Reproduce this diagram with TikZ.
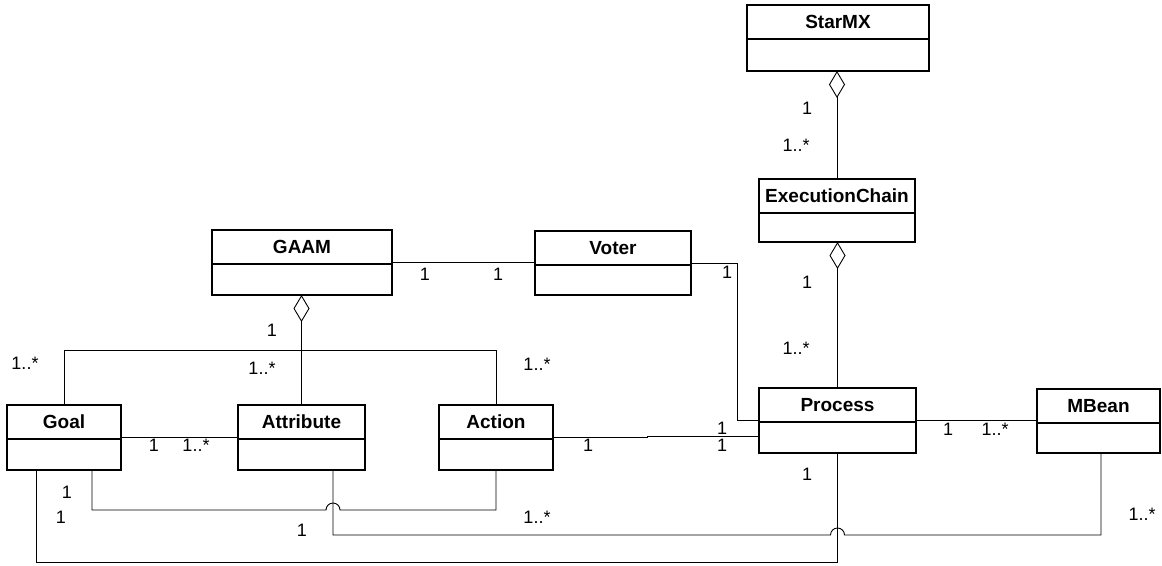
\documentclass[tikz,border=0pt]{standalone}
\usepackage{fontspec}
\setmainfont{Liberation Sans}
\usetikzlibrary{arrows.meta,calc}
\tikzset{
 cls/.style={draw, line width=1.5pt, inner sep=0pt, outer sep=0pt},
 hdr/.style={line width=1.5pt},
 ttl/.style={font=\bfseries\fontsize{19}{19}\selectfont, inner sep=0pt, text height=13.3pt, text depth=0pt},
 lbl/.style={font=\fontsize{18}{18}\selectfont, inner sep=0pt, text height=12.6pt, text depth=0pt},
 conn/.style={line width=0.9pt},
 agg/.style={conn, -{Diamond[open, length=27pt, width=16pt]}},
}
\newcommand\umlbox[6]{%
 \node[cls, minimum width=#4pt, minimum height=#5pt] (#1) at (#2,#3) {};
 \draw[hdr] ([yshift=-34pt]#1.north west) -- ([yshift=-34pt]#1.north east);
 \node[ttl] (#1-t) at ([yshift=-17pt]#1.north) {#6};
}
\begin{document}
\begin{tikzpicture}[x=1pt,y=-1pt]
\useasboundingbox (0,0) rectangle (1162,565);
% classes
\umlbox{starmx}{838}{38}{182}{66}{StarMX}
\umlbox{exec}{837}{210.5}{156}{63}{ExecutionChain}
\umlbox{gaam}{302}{262.5}{180}{65}{GAAM}
\umlbox{voter}{613}{263}{156}{64}{Voter}
\umlbox{goal}{64}{437.5}{114}{65}{Goal}
\umlbox{attr}{301.5}{437.5}{127}{65}{Attribute}
\umlbox{action}{496}{437.5}{114}{65}{Action}
\umlbox{process}{837.5}{420.5}{157}{65}{Process}
\umlbox{mbean}{1098.5}{421}{123}{64}{MBean}
% connectors
\draw[agg] (exec.north) -- (exec.north |- starmx.south);
\draw[agg] (process.north) -- (process.north |- exec.south);
\draw[agg] (attr.north) -- (attr.north |- gaam.south);
\draw[conn] (gaam.east) -- (gaam.east -| voter.west);
\draw[conn] (voter.east) -| ([xshift=-22pt]process.west) -- (process.west);
\draw[conn] (action.east) -- (647,437.5) -- (647,436.5) -- ([yshift=1pt]action.east -| process.west);
\draw[conn] (process.east) -- (process.east -| mbean.west);
\draw[conn] (goal.east) -- (attr.west);
\draw[conn] (goal.north) -- (goal.north |- 0,350) -| (action.north);
\draw[conn] ([xshift=28pt]goal.south) -- ++(0,40) -- (326,510)
  arc[start angle=180,end angle=0,radius=7pt] -- (action.south |- 0,510) -- (action.south);
\draw[conn] ([xshift=31.5pt]attr.south) -- ++(0,65) -- (830.5,535)
  arc[start angle=180,end angle=0,radius=7pt] -- (1101,535) -- ([xshift=2.5pt]mbean.south);
\draw[conn] ([xshift=-28pt]goal.south) -- ++(0,92) -- (process.south |- 0,562) -- (process.south);
% multiplicities
\node[lbl] (m1) at (807,108) {1};
\node[lbl] (m2) at (796,145) {1..*};
\node[lbl] (m3) at (807,282) {1};
\node[lbl] (m4) at (796,348) {1..*};
\node[lbl] (m5) at (807,474) {1};
\node[lbl] (m6) at (272,330) {1};
\node[lbl] (m7) at (262,368) {1..*};
\node[lbl] (m8) at (25,363) {1..*};
\node[lbl] (m9) at (537,364) {1..*};
\node[lbl] (m10) at (154,445) {1};
\node[lbl] (m11) at (196,445) {1..*};
\node[lbl] (m12) at (425,274) {1};
\node[lbl] (m13) at (498,274) {1};
\node[lbl] (m14) at (727,272) {1};
\node[lbl] (m15) at (588,445) {1};
\node[lbl] (m16) at (722,428) {1};
\node[lbl] (m17) at (722,445) {1};
\node[lbl] (m18) at (948,429) {1};
\node[lbl] (m19) at (995,429) {1..*};
\node[lbl] (m20) at (1142,514) {1..*};
\node[lbl] (m21) at (67,492) {1};
\node[lbl] (m22) at (61,517) {1};
\node[lbl] (m23) at (302,530) {1};
\node[lbl] (m24) at (537,517) {1..*};
\end{tikzpicture}
\end{document}
